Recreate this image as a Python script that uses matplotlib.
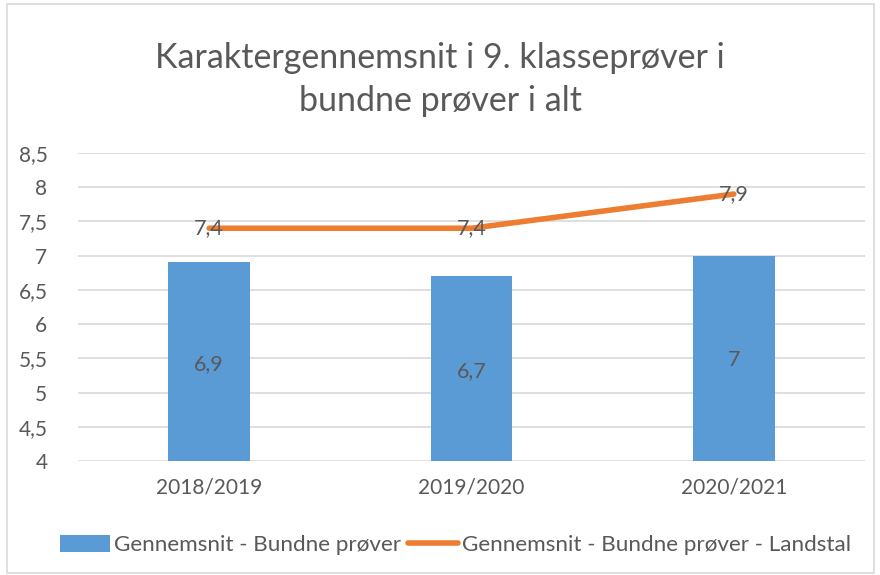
import matplotlib.pyplot as plt
from matplotlib.patches import Rectangle

skoleaar = ['2018/2019', '2019/2020', '2020/2021']
gennemsnit = [6.9, 6.7, 7.0]
landstal = [7.4, 7.4, 7.9]
y_ticks = [4, 4.5, 5, 5.5, 6, 6.5, 7, 7.5, 8, 8.5]


def komma(v):
    # dansk decimalkomma, heltal uden decimal
    if float(v).is_integer():
        return str(int(v))
    return f"{v:g}".replace('.', ',')


plt.rcParams['font.family'] = ['Lato', 'DejaVu Sans']
tekst = '#595959'

fig = plt.figure(figsize=(8.8, 5.75), dpi=100)
fig.patches.append(Rectangle((0.008, 0.003), 0.985, 0.99, transform=fig.transFigure,
                             fill=False, edgecolor='#D9D9D9', linewidth=1.2))

ax = fig.add_axes([0.0886, 0.1983, 0.8944, 0.5357])
x = range(len(skoleaar))

soejler = ax.bar(x, gennemsnit, width=0.31, bottom=0, color='#5B9BD5',
                 label='Gennemsnit - Bundne prøver', zorder=2)
linje, = ax.plot(x, landstal, color='#ED7D31', linewidth=4, solid_capstyle='round',
                 label='Gennemsnit - Bundne prøver - Landstal', zorder=3)

for i, v in enumerate(gennemsnit):
    ax.text(i, (4 + v) / 2 - 0.03, komma(v), ha='center', va='center', fontsize=15.5, color=tekst, zorder=4)
for i, v in enumerate(landstal):
    ax.text(i, v, komma(v), ha='center', va='center', fontsize=15.5, color=tekst, zorder=4)

ax.set_ylim(4, 8.5)
ax.set_xlim(-0.5, 2.5)
ax.set_yticks(y_ticks)
ax.set_yticklabels([komma(t) for t in y_ticks])
ax.set_xticks(list(x))
ax.set_xticklabels(skoleaar)
ax.tick_params(axis='both', length=0, labelsize=15, labelcolor=tekst)
ax.tick_params(axis='y', pad=22)
ax.tick_params(axis='x', pad=12)
ax.grid(axis='y', color='#D9D9D9', linewidth=1.2, zorder=0)
for s in ax.spines.values():
    s.set_visible(False)

fig.text(0.5, 0.862, 'Karaktergennemsnit i 9. klasseprøver i\nbundne prøver i alt',
         ha='center', va='center', fontsize=24.5, color=tekst, linespacing=1.4)

fig.legend(handles=[soejler, linje], loc='center', bbox_to_anchor=(0.518, 0.052), ncol=2,
           frameon=False, fontsize=16.2, labelcolor=tekst, handlelength=2.2,
           handletextpad=0.2, columnspacing=0.3, handleheight=0.8)

fig.savefig('out.png', dpi=100)
